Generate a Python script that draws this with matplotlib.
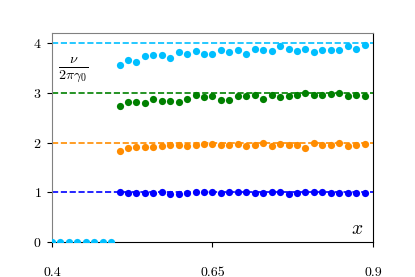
import matplotlib
matplotlib.use("Agg")
import matplotlib.pyplot as plt

plt.rcParams['font.family'] = 'serif'
plt.rcParams['font.serif'] = ['cmr10', 'DejaVu Serif']
plt.rcParams['mathtext.fontset'] = 'cm'
plt.rcParams['axes.formatter.use_mathtext'] = True

# x grid of the sweep
x_zero = [0.4000, 0.4132, 0.4263, 0.4395, 0.4526, 0.4658, 0.4789, 0.4921]
x_band = [0.5053, 0.5184, 0.5316, 0.5447, 0.5579, 0.5711, 0.5842, 0.5974,
          0.6105, 0.6237, 0.6368, 0.6500, 0.6632, 0.6763, 0.6895, 0.7026,
          0.7158, 0.7289, 0.7421, 0.7553, 0.7684, 0.7816, 0.7947, 0.8079,
          0.8211, 0.8342, 0.8474, 0.8605, 0.8737, 0.8868]

y_zero = [0, 0, 0, 0, 0, 0, 0, 0]

# nu / (2 pi gamma0) for each band
band1 = [1.00, 0.99, 0.99, 0.99, 0.995, 1.00, 0.96, 0.975, 0.99, 1.00,
         1.00, 1.00, 0.995, 1.00, 1.00, 1.00, 0.99, 0.99, 1.00, 1.00,
         0.97, 0.99, 1.00, 1.00, 1.00, 0.995, 0.99, 0.99, 0.99, 0.99]
band2 = [1.83, 1.88, 1.90, 1.90, 1.91, 1.92, 1.96, 1.94, 1.92, 1.94,
         1.97, 1.97, 1.96, 1.96, 1.98, 1.92, 1.94, 1.99, 1.93, 1.98,
         1.96, 1.96, 1.89, 1.99, 1.94, 1.96, 1.99, 1.92, 1.96, 1.98]
band3 = [2.73, 2.81, 2.81, 2.80, 2.88, 2.84, 2.84, 2.82, 2.88, 2.96,
         2.91, 2.93, 2.85, 2.85, 2.94, 2.93, 2.96, 2.88, 2.95, 2.92,
         2.94, 2.95, 3.00, 2.96, 2.96, 2.97, 2.99, 2.94, 2.96, 2.94]
band4 = [3.55, 3.66, 3.61, 3.74, 3.75, 3.76, 3.69, 3.81, 3.78, 3.84,
         3.78, 3.78, 3.85, 3.82, 3.85, 3.78, 3.88, 3.86, 3.84, 3.93,
         3.88, 3.84, 3.88, 3.82, 3.86, 3.86, 3.85, 3.94, 3.88, 3.96]

levels = [1, 2, 3, 4]
colors = ['blue', 'darkorange', 'green', 'deepskyblue']

fig = plt.figure(figsize=(4.15, 2.77), dpi=100)
ax = fig.add_axes([0.125, 0.126, 0.774, 0.755])

for lev, c in zip(levels, colors):
    ax.axhline(lev, color=c, ls='--', lw=1.2, zorder=1)

ax.plot(x_zero, y_zero, 'o', color='deepskyblue', ms=5.2, mew=0, zorder=3)
for ys, c in zip([band1, band2, band3, band4], colors):
    ax.plot(x_band, ys, 'o', color=c, ms=5.2, mew=0, zorder=3)

ax.set_xlim(0.4, 0.9)
ax.set_ylim(0, 4.2)
ax.set_xticks([0.4, 0.65, 0.9])
ax.set_xticklabels(['0.4', '0.65', '0.9'])
ax.set_yticks([0, 1, 2, 3, 4])
ax.tick_params(axis='x', pad=14, length=3.5, labelsize=10)
ax.tick_params(axis='y', pad=4, length=3.5, labelsize=10)

ax.spines['left'].set_color('gray')
ax.spines['top'].set_color('gray')

ax.text(0.95, 0.02, r'$x$', transform=ax.transAxes, fontsize=14,
        ha='center', va='bottom')
ax.text(0.065, 0.82, r'$\frac{\nu}{2\pi\gamma_0}$', transform=ax.transAxes,
        fontsize=14.5, ha='center', va='center')

fig.savefig('out.png', dpi=100)
